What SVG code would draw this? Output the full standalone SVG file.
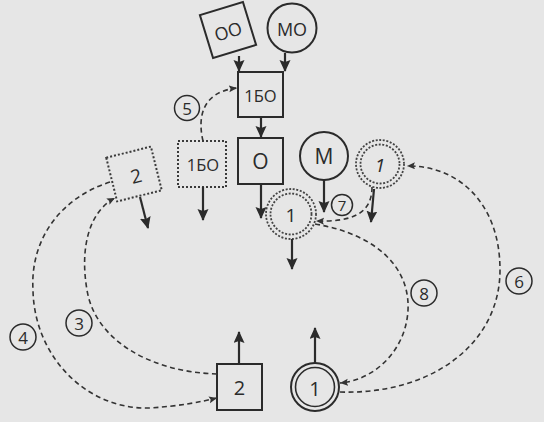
<svg xmlns="http://www.w3.org/2000/svg" width="544" height="422" viewBox="0 0 544 422">
<style>
.n{fill:none;stroke:#2b2b2b;stroke-width:2}
.d{fill:none;stroke:#3a3a3a;stroke-width:2;stroke-dasharray:2 2}
.dc{fill:none;stroke:#444;stroke-width:1.8;stroke-dasharray:2 1.6}
.a{fill:none;stroke:#2b2b2b;stroke-width:2.2;marker-end:url(#ah)}
.c{fill:none;stroke:#333;stroke-width:1.6;stroke-dasharray:5 3.5;marker-end:url(#sh)}
.lc{fill:none;stroke:#2b2b2b;stroke-width:1.5}
text{font-family:"Open Sans","DejaVu Sans",sans-serif;fill:#2b2b2b;text-anchor:middle;dominant-baseline:central}
.t{font-size:16.5px}
.big{font-size:21px}
.lb{font-size:17px}
</style>
<defs>
<marker id="ah" markerUnits="userSpaceOnUse" markerWidth="12" markerHeight="12" refX="11" refY="5.5" orient="auto">
<path d="M0,0 L12,5.5 L0,11 L2,5.5 z" fill="#2b2b2b"/>
</marker>
<marker id="sh" markerUnits="userSpaceOnUse" markerWidth="9" markerHeight="8" refX="8" refY="3.5" orient="auto">
<path d="M0,0 L8,3.5 L0,7 L1.5,3.5 z" fill="#333"/>
</marker>
</defs>
<rect width="544" height="422" fill="#e6e6e6"/>

<g id="node-OO">
<rect class="n" x="-22.5" y="-22.5" width="45" height="45" transform="translate(228,30) rotate(-17)"/>
<text class="t" x="228" y="31" transform="rotate(-17 228 31)" style="font-size:18px">ОО</text>
</g>
<g id="node-MO">
<circle class="n" cx="292" cy="28" r="24.5"/>
<text class="t" x="292" y="29" style="font-size:18px">МО</text>
</g>
<g id="node-1BO">
<rect class="n" x="238" y="72" width="45" height="45"/>
<text class="t" x="260.5" y="95">1БО</text>
</g>
<g id="node-O">
<rect class="n" x="238" y="138" width="45" height="46"/>
<text class="big" x="260.5" y="161">О</text>
</g>
<g id="node-1BO-dashed">
<rect class="d" x="178" y="141" width="48" height="46"/>
<text class="t" x="203" y="164">1БО</text>
</g>
<g id="node-2-dashed">
<rect class="d" x="-23" y="-22.5" width="46" height="45" transform="translate(134,174) rotate(-14)"/>
<text class="big" x="136" y="176" transform="rotate(-14 136 176)" style="font-size:19px">2</text>
</g>
<g id="node-M">
<circle class="n" cx="324" cy="156" r="24"/>
<text class="big" x="324" y="156">М</text>
</g>
<g id="node-1-mid">
<circle class="dc" cx="291" cy="214" r="25"/>
<circle class="dc" cx="291" cy="214" r="20.5"/>
<text class="big" x="291" y="215" style="font-size:19px">1</text>
</g>
<g id="node-1-top">
<circle class="dc" cx="380" cy="164" r="24"/>
<circle class="dc" cx="380" cy="164" r="19.5"/>
<text class="big" x="380" y="165" style="font-size:19px;font-style:italic">1</text>
</g>
<g id="node-2">
<rect class="n" x="217" y="364" width="45" height="46"/>
<text class="big" x="239.5" y="387" style="font-size:20px">2</text>
</g>
<g id="node-1-bottom">
<circle class="n" cx="315" cy="387" r="24"/>
<circle class="n" cx="315" cy="387" r="19.5" style="stroke-width:1.6"/>
<text class="big" x="315" y="388" style="font-size:20px">1</text>
</g>

<g id="connectors">
<line class="a" x1="239" y1="56" x2="239" y2="71"/>
<line class="a" x1="285" y1="53" x2="285" y2="71"/>
<line class="a" x1="261" y1="117" x2="261" y2="137"/>
<line class="a" x1="261" y1="184" x2="261" y2="218"/>
<line class="a" x1="203" y1="187" x2="203" y2="220"/>
<line class="a" x1="140" y1="197" x2="148" y2="228"/>
<line class="a" x1="324" y1="180" x2="324" y2="212"/>
<line class="a" x1="292" y1="239" x2="292" y2="269"/>
<line class="a" x1="374" y1="189" x2="371" y2="222"/>
<line class="a" x1="239" y1="364" x2="239" y2="332"/>
<line class="a" x1="315" y1="363" x2="315" y2="328"/>

<path class="c" d="M203,141 C198,120 200,92 237,88"/>
<path class="c" d="M217,374 C150,372 95,340 87,290 C80,250 88,212 115,198"/>
<path class="c" d="M110,182 C60,198 30,240 33,290 C34,355 85,410 150,408 C180,406 200,402 217,398"/>
<path class="c" d="M372,187 C372,215 350,222 316,221"/>
<path class="c" d="M315,224 C380,235 410,270 408,310 C406,350 375,380 340,383"/>
<path class="c" d="M340,392 C430,395 500,345 500,270 C500,200 455,165 407,166"/>

<circle class="lc" cx="187" cy="108" r="12.5"/><text class="lb" x="187" y="108">5</text>
<circle class="lc" cx="79" cy="323" r="13"/><text class="lb" x="79" y="323">3</text>
<circle class="lc" cx="23" cy="337" r="13"/><text class="lb" x="23" y="337">4</text>
<circle class="lc" cx="342" cy="205" r="10.5"/><text class="lb" x="342" y="205" style="font-size:15px">7</text>
<circle class="lc" cx="424" cy="293" r="13"/><text class="lb" x="424" y="293">8</text>
<circle class="lc" cx="519" cy="281" r="13"/><text class="lb" x="519" y="281">6</text>
</g>
</svg>
